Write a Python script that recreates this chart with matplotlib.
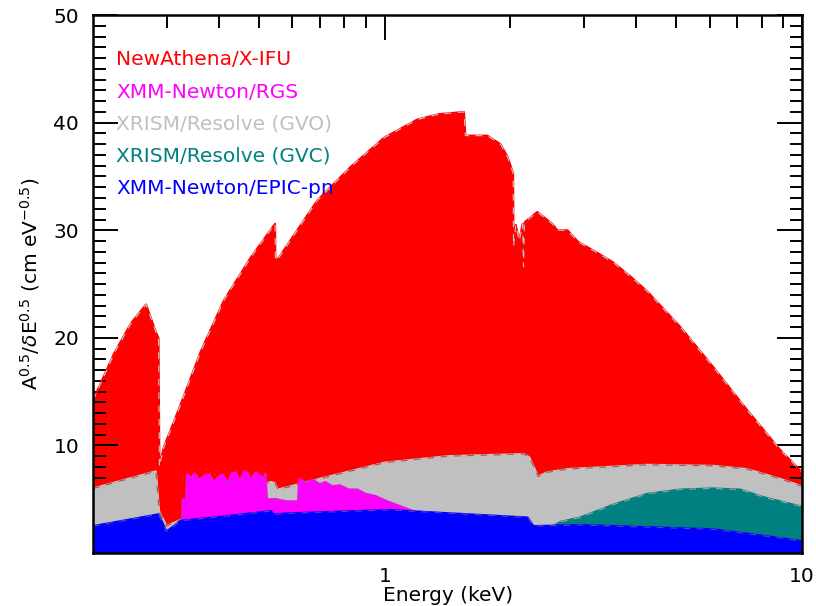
import numpy as np
import matplotlib
matplotlib.use('Agg')
import matplotlib.pyplot as plt
from matplotlib.ticker import FixedLocator, MultipleLocator, NullFormatter

# NewAthena/X-IFU
xifu_e = [0.2, 0.225, 0.247, 0.268, 0.283, 0.287, 0.2885, 0.290, 0.296, 0.325, 0.363, 0.412,
          0.478, 0.546, 0.547, 0.554, 0.69, 0.829, 0.996, 1.197, 1.35, 1.548, 1.56, 1.70, 1.76,
          1.894, 1.97, 2.03, 2.035, 2.06, 2.10, 2.14, 2.15, 2.16, 2.17, 2.32, 2.52, 2.59,
          2.74, 2.91, 3.20, 3.53, 3.88, 4.26, 5.11, 6.12, 7.38, 8.85, 10.0]
xifu_a = [14.2, 18.6, 21.4, 23.1, 20.5, 20.0, 8.0, 8.5, 9.9, 13.9, 18.8, 23.5,
          27.5, 30.6, 27.2, 27.3, 32.8, 35.9, 38.6, 40.3, 40.8, 41.0, 38.8, 38.8, 38.8,
          38.0, 36.8, 35.3, 28.5, 30.5, 29.0, 30.6, 26.6, 30.6, 30.8, 31.7, 30.6, 30.0,
          30.0, 28.9, 28.0, 27.0, 25.7, 24.3, 21.0, 17.3, 13.3, 9.6, 7.5]

# XRISM/Resolve (GVO)
gvo_e = [0.2, 0.283, 0.288, 0.30, 0.325, 0.36, 0.42, 0.48, 0.534, 0.545, 0.555, 0.715,
         1.0, 1.415, 2.15, 2.22, 2.33, 2.45, 2.74, 4.26, 6.12, 7.38, 8.85, 10.0]
gvo_a = [6.0, 7.6, 3.9, 2.5, 3.1, 4.2, 5.4, 6.1, 6.6, 6.5, 5.9, 7.0,
         8.4, 9.0, 9.2, 8.9, 7.1, 7.5, 7.8, 8.2, 8.1, 7.8, 6.9, 6.2]

# XRISM/Resolve (GVC)
gvc_e = [2.3, 2.5, 2.64, 2.94, 3.53, 4.26, 5.11, 6.12, 7.1, 8.06, 10.0]
gvc_a = [2.2, 2.4, 2.9, 3.3, 4.5, 5.5, 5.9, 6.0, 5.9, 5.2, 4.3]

# XMM-Newton/RGS
rgs_e = [0.327, 0.328, 0.334, 0.336, 0.345, 0.35, 0.36, 0.37, 0.38, 0.39, 0.40,
         0.41, 0.42, 0.43, 0.44, 0.45, 0.46, 0.47, 0.48, 0.49, 0.50, 0.51, 0.518, 0.522,
         0.55, 0.58, 0.62, 0.623, 0.65, 0.67, 0.70, 0.72, 0.75, 0.78, 0.82, 0.86, 0.90,
         0.95, 1.0, 1.08, 1.17, 1.2]
rgs_a = [3.0, 5.0, 5.0, 7.3, 7.0, 7.4, 6.8, 7.2, 7.3, 6.6, 7.1,
         7.3, 6.5, 7.4, 7.5, 6.7, 7.6, 7.4, 6.8, 7.5, 7.3, 6.9, 7.4, 5.0,
         5.0, 4.8, 4.8, 6.9, 6.5, 6.8, 6.4, 6.6, 6.2, 6.3, 5.9, 5.9, 5.5,
         5.3, 4.9, 4.4, 3.9, 3.7]

# XMM-Newton/EPIC-pn
pn_e = [0.2, 0.287, 0.30, 0.325, 0.412, 0.534, 0.54, 0.6, 1.03, 1.415, 2.2, 2.27,
        2.94, 4.26, 6.12, 8.06, 10.0]
pn_a = [2.5, 3.6, 2.0, 3.0, 3.4, 3.9, 3.6, 3.7, 4.0, 3.7, 3.3, 2.5,
        2.6, 2.4, 2.2, 1.6, 1.1]

labels = ['NewAthena/X-IFU', 'XMM-Newton/RGS', 'XRISM/Resolve (GVO)',
          'XRISM/Resolve (GVC)', 'XMM-Newton/EPIC-pn']
colors = ['#ff0000', '#ff00ff', '#c0c0c0', '#008080', '#0000ff']
dash_colors = ['#c8c8c8', '#b040b0', '#b05050', '#a0a0a0', '#6040c0']

fig = plt.figure(figsize=(8.16, 6.06), dpi=100)
ax = fig.add_axes([0.114, 0.0875, 0.869, 0.8875])

# drawing order: red, gray, teal, magenta, blue
order = [(xifu_e, xifu_a, 0), (gvo_e, gvo_a, 2), (gvc_e, gvc_a, 3),
         (rgs_e, rgs_a, 1), (pn_e, pn_a, 4)]
for i, (e, a, k) in enumerate(order):
    z = 1 + 3 * i
    ax.fill_between(e, 0, a, color=colors[k], lw=0, zorder=z)
    ax.plot(e, a, color=colors[k], lw=1.5, zorder=z + 1)
    ax.plot(e, a, color=dash_colors[k], lw=0.8, ls=(0, (6, 6)), zorder=z + 2)

ax.set_xscale('log')
ax.set_xlim(0.2, 10)
ax.set_ylim(0, 50)

ax.xaxis.set_major_locator(FixedLocator([1, 10]))
ax.xaxis.set_minor_locator(FixedLocator([0.3, 0.4, 0.5, 0.6, 0.7, 0.8, 0.9,
                                         2, 3, 4, 5, 6, 7, 8, 9]))
ax.xaxis.set_minor_formatter(NullFormatter())
ax.set_xticklabels(['1', '10'])
ax.yaxis.set_major_locator(FixedLocator([10, 20, 30, 40, 50]))
ax.yaxis.set_minor_locator(MultipleLocator(1))

ax.tick_params(which='both', direction='in', top=True, right=True, width=1.4,
               labelsize=14.5)
ax.tick_params(which='major', length=18)
ax.tick_params(axis='x', which='major', pad=10)
ax.tick_params(axis='y', which='major', pad=10)
ax.tick_params(which='minor', length=9)
for sp in ax.spines.values():
    sp.set_linewidth(1.8)
    sp.set_zorder(30)

ax.set_xlabel('Energy (keV)', fontsize=14.5, labelpad=0)
ax.set_ylabel(r'A$^{0.5}$/$\delta$E$^{0.5}$ (cm eV$^{\mathdefault{-0.5}}$)',
              fontsize=14.5, labelpad=8)

ypos = [0.918, 0.856, 0.797, 0.738, 0.677]
for lab, c, yp in zip(labels, colors, ypos):
    ax.text(0.033, yp, lab, color=c, fontsize=14.5, transform=ax.transAxes,
            va='center', ha='left', zorder=40)

fig.savefig('out.png', dpi=100)
